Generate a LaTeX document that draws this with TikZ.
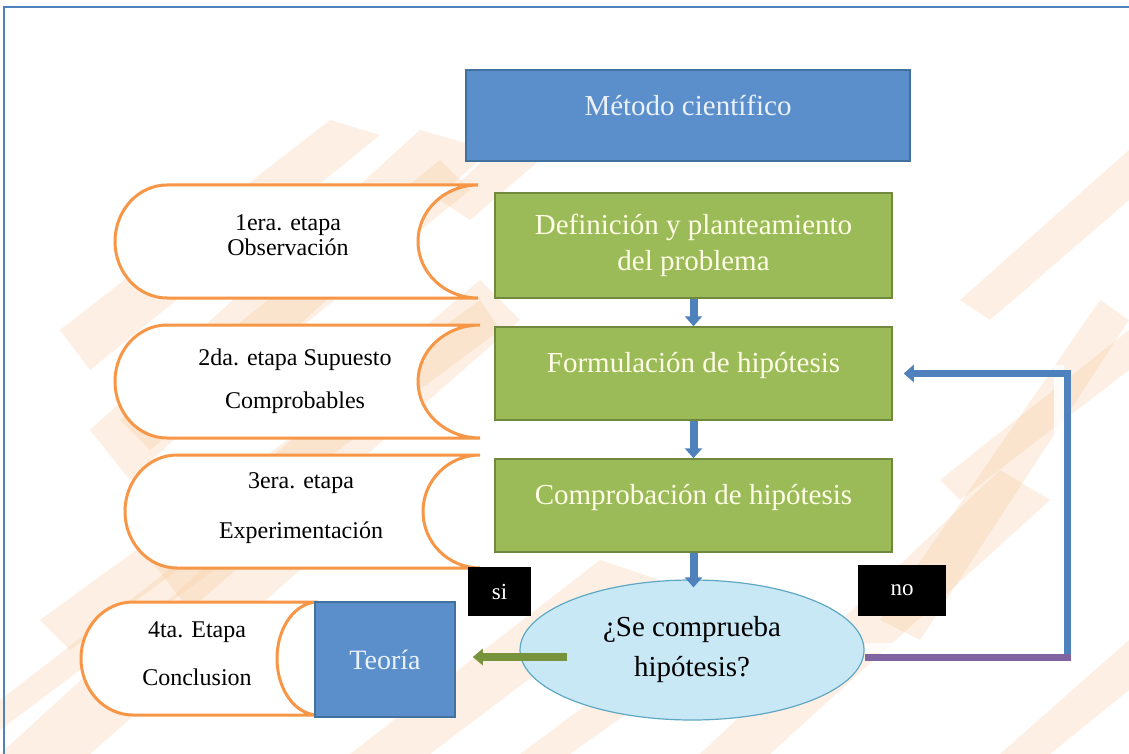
\documentclass[tikz,border=0pt]{standalone}
\usepackage{fontspec}
\setmainfont{Liberation Serif}
\usetikzlibrary{shapes.geometric,arrows.meta}
\definecolor{azul}{HTML}{5B8FCB}
\definecolor{azulborde}{HTML}{41719C}
\definecolor{verde}{HTML}{9BBB59}
\definecolor{verdeborde}{HTML}{71893F}
\definecolor{naranja}{HTML}{F79646}
\definecolor{celeste}{HTML}{C9E8F6}
\definecolor{celesteborde}{HTML}{5FA8C4}
\definecolor{flechaazul}{HTML}{4F81BD}
\definecolor{morado}{HTML}{8064A2}
\definecolor{oliva}{HTML}{77933C}
\definecolor{durazno}{HTML}{F9C89B}
\tikzset{
  titulo/.style={
    rectangle,
    fill=azul,
    draw=azulborde,
    line width=1.5pt,
    text=white!88!azul,
    font=\fontsize{29}{34}\selectfont,
    minimum width=444pt,
    minimum height=91pt,
    inner sep=0pt
  },
  paso/.style={
    rectangle,
    fill=verde,
    draw=verdeborde,
    line width=1.5pt,
    text=yellow!10!white,
    font=\fontsize{29}{36}\selectfont,
    align=center,
    minimum width=397pt,
    inner sep=0pt
  },
  rollo/.style={draw=naranja, fill=white, line width=3pt},
  etapa/.style={align=center, font=\fontsize{24}{26}\selectfont},
  pregunta/.style={
    ellipse,
    fill=celeste,
    draw=celesteborde,
    line width=1.2pt,
    minimum width=344pt,
    minimum height=140pt,
    align=center,
    font=\fontsize{29}{40}\selectfont
  },
  rotulo/.style={rectangle, fill=black, text=white, font=\fontsize{23}{26}\selectfont},
  flecha/.style={draw=flechaazul, line width=8pt, -{Triangle[width=17pt,length=10pt]}},
  brocha/.style={fill=durazno, opacity=0.28},
  brillo/.style={draw=white, line width=10pt, opacity=0.85}
}
\begin{document}
\begin{tikzpicture}[x=1pt,y=-1pt]
    \useasboundingbox (0,0) rectangle (1129,754);
    % fondo
    \fill[white] (0,0) rectangle (1129,754);
    \fill[brocha] (90,430) -- (420,130) -- (490,150) -- (130,480) -- cycle;
    \fill[brocha] (60,330) -- (330,120) -- (380,135) -- (90,370) -- cycle;
    \fill[brocha] (120,420) -- (440,160) -- (470,190) -- (150,450) -- cycle;
    \fill[brocha] (150,560) -- (480,280) -- (520,320) -- (190,610) -- cycle;
    \fill[brocha] (40,620) -- (480,300) -- (500,330) -- (70,650) -- cycle;
    \fill[brocha] (0,754) -- (300,480) -- (380,500) -- (90,754) -- cycle;
    \fill[brocha] (0,700) -- (260,500) -- (280,520) -- (0,730) -- cycle;
    \fill[brocha] (350,754) -- (600,560) -- (660,580) -- (430,754) -- cycle;
    \fill[brocha] (520,754) -- (700,620) -- (730,640) -- (570,754) -- cycle;
    \fill[brocha] (700,754) -- (1000,470) -- (1050,500) -- (770,754) -- cycle;
    \fill[brocha] (880,620) -- (1100,300) -- (1129,320) -- (920,640) -- cycle;
    \fill[brocha] (940,480) -- (1129,330) -- (1129,370) -- (960,500) -- cycle;
    \fill[brocha] (440,200) -- (560,90) -- (610,100) -- (470,220) -- cycle;
    \fill[brocha] (960,300) -- (1129,150) -- (1129,200) -- (990,320) -- cycle;
    \fill[brocha] (1000,754) -- (1129,640) -- (1129,690) -- (1050,754) -- cycle;
    \draw[flechaazul, line width=2pt] (4,754) -- (4,7) -- (1129,7);

    \node[titulo, text height=21pt, text depth=20pt] (metodo) at (688,115.5) {Método científico};
    \node[paso, minimum height=105pt] (definicion) at (693.5,245.5)
        {Definición y planteamiento\\del problema};
    \node[paso, minimum height=93pt, text height=21pt, text depth=23pt] (formulacion) at (693.5,373.5)
        {Formulación de hipótesis};
    \node[paso, minimum height=93pt, text height=21pt, text depth=23pt] (comprobacion) at (693.5,505.5)
        {Comprobación de hipótesis};
    \node[pregunta] (comprueba) at (692,650) {¿Se comprueba\\hipótesis?};

    \draw[rollo] (478,185) -- (167,185) arc[start angle=90, end angle=270, x radius=52pt, y radius=56.5pt]
        -- (478,298) arc[start angle=270, end angle=90, x radius=60pt, y radius=56.5pt] -- cycle;
    \draw[rollo] (480,325) -- (167,325) arc[start angle=90, end angle=270, x radius=52pt, y radius=56.5pt]
        -- (480,438) arc[start angle=270, end angle=90, x radius=62pt, y radius=56.5pt] -- cycle;
    \draw[rollo] (480,455) -- (177,455) arc[start angle=90, end angle=270, x radius=52pt, y radius=56.5pt]
        -- (480,568) arc[start angle=270, end angle=90, x radius=57pt, y radius=56.5pt] -- cycle;
    \draw[rollo] (318,602) -- (133,602) arc[start angle=90, end angle=270, x radius=52pt, y radius=56.5pt]
        -- (318,715) arc[start angle=270, end angle=90, x radius=41pt, y radius=56.5pt] -- cycle;

    \node[etapa, font=\fontsize{24}{25}\selectfont] (etapa1) at (288,235.5) {1era. etapa\\Observación};
    \node[etapa] (etapa2) at (295,381.5) {2da. etapa Supuesto\\[17pt]Comprobables};
    \node[etapa] (etapa3) at (301,508) {3era. etapa\\[24pt]Experimentación};
    \node[etapa] (etapa4) at (197,654) {4ta. Etapa\\[22pt]Conclusion};

    \node[titulo, minimum width=140pt, minimum height=115pt, font=\fontsize{28}{32}\selectfont]
        (teoria) at (385,659.5) {Teoría};
    \node[rotulo, minimum width=63pt, minimum height=49pt] (si) at (499.5,591.5) {si};
    \node[rotulo, minimum width=88pt, minimum height=51pt] (no) at (902,590.5) {no};

    \draw[flecha] (definicion.south) -- (formulacion.north);
    \draw[flecha] (formulacion.south) -- (comprobacion.north);
    \draw[flecha, shorten >=-8pt] (comprobacion.south) -- (comprobacion.south |- comprueba.north);

    \coordinate (esquina) at (1067,657);
    \coordinate (salida) at (567,657);
    \draw[brillo] ([yshift=9pt]comprueba.east |- esquina) -- ([xshift=-8pt,yshift=9pt]esquina)
        -- ([xshift=-8pt,yshift=9pt]esquina |- formulacion.east);
    \draw[morado, line width=7pt] (comprueba.east |- esquina) -- ([xshift=3.5pt]esquina);
    \draw[flecha, line width=7pt, shorten >=11pt] ([yshift=3.5pt]esquina) |- (formulacion.east);
    \draw[oliva, line width=8pt, -{Triangle[width=16pt,length=10pt]}, shorten >=17pt]
        (salida) -- (teoria.east |- salida);
\end{tikzpicture}
\end{document}
